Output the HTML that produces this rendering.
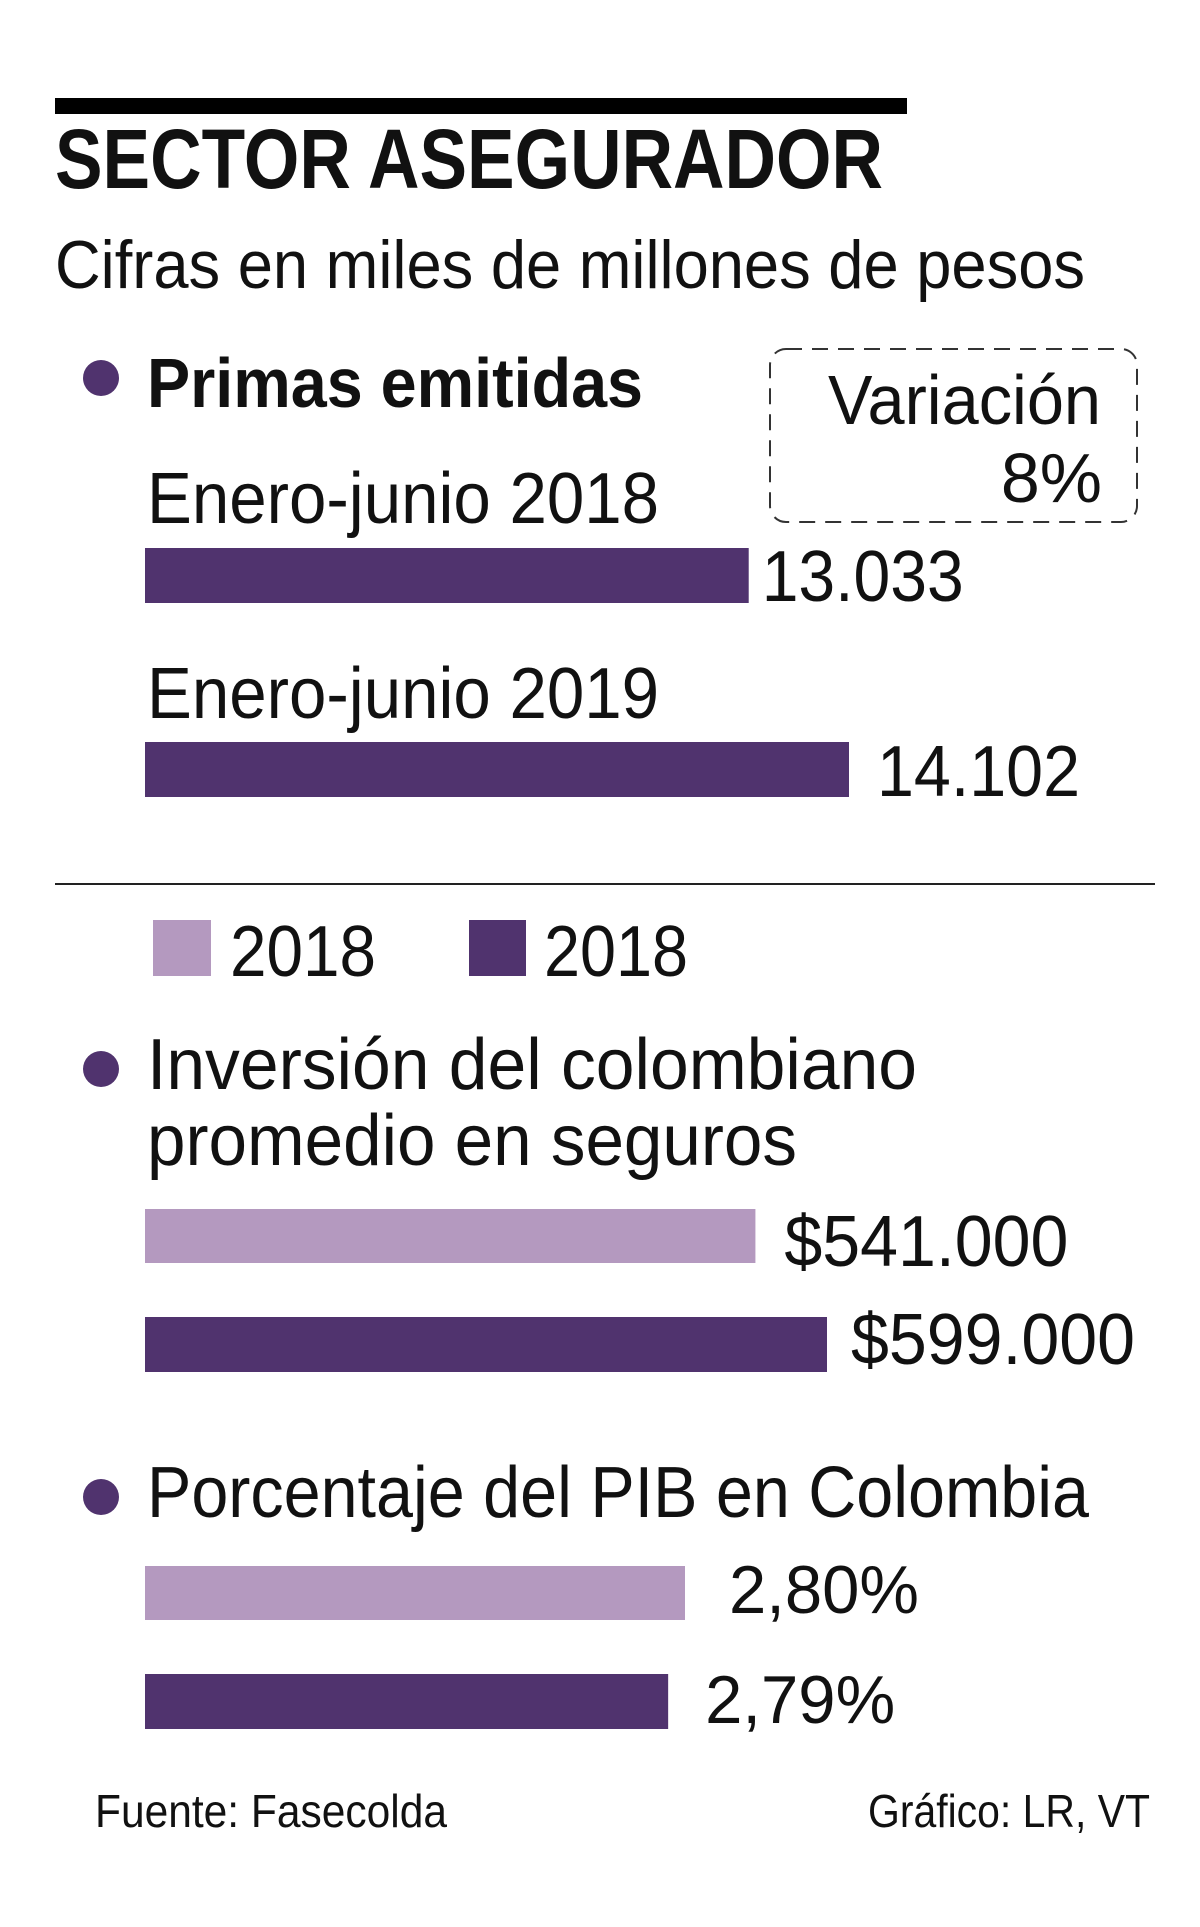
<!DOCTYPE html>
<html><head><meta charset="utf-8"><style>
html,body{margin:0;padding:0;background:#fff}
svg{display:block}
text{font-family:"Liberation Sans",sans-serif;fill:#111}
</style></head><body>
<svg id="chart" width="1200" height="1927" viewBox="0 0 1200 1927" xmlns="http://www.w3.org/2000/svg">
<rect x="55" y="98" width="852" height="16" fill="#000"/>
<text x="55" y="188" font-size="84" font-weight="bold" textLength="828" lengthAdjust="spacingAndGlyphs">SECTOR ASEGURADOR</text>
<text x="55" y="288" font-size="68" textLength="1030" lengthAdjust="spacingAndGlyphs">Cifras en miles de millones de pesos</text>

<circle cx="101" cy="378" r="18" fill="#50336e"/>
<text x="147" y="407" font-size="70" font-weight="bold" textLength="496" lengthAdjust="spacingAndGlyphs">Primas emitidas</text>
<rect x="770" y="349" width="367" height="173" rx="16" fill="none" stroke="#333" stroke-width="2" stroke-dasharray="16 10"/>
<text x="828" y="424" font-size="70" textLength="273" lengthAdjust="spacingAndGlyphs">Variación</text>
<text x="1102" y="502" font-size="70" text-anchor="end">8%</text>
<text x="147" y="523" font-size="72" textLength="512" lengthAdjust="spacingAndGlyphs">Enero-junio 2018</text>
<text x="147" y="718" font-size="72" textLength="512" lengthAdjust="spacingAndGlyphs">Enero-junio 2019</text>
<g id="g-primas"></g>

<rect x="55" y="883" width="1100" height="2" fill="#222"/>

<rect x="153" y="920" width="58" height="56" fill="#b499bf"/>
<text x="230" y="976" font-size="72" textLength="146" lengthAdjust="spacingAndGlyphs">2018</text>
<rect x="469" y="920" width="57" height="56" fill="#50336e"/>
<text x="544" y="976" font-size="72" textLength="144" lengthAdjust="spacingAndGlyphs">2018</text>

<circle cx="101" cy="1069" r="18" fill="#50336e"/>
<text x="147" y="1089" font-size="72" textLength="770" lengthAdjust="spacingAndGlyphs">Inversión del colombiano</text>
<text x="147" y="1165" font-size="72" textLength="650" lengthAdjust="spacingAndGlyphs">promedio en seguros</text>
<g id="g-inv"></g>

<circle cx="101" cy="1497" r="18" fill="#50336e"/>
<text x="147" y="1517" font-size="72" textLength="942" lengthAdjust="spacingAndGlyphs">Porcentaje del PIB en Colombia</text>
<g id="g-pib"></g>

<text x="95" y="1827" font-size="46" fill="#222" textLength="352" lengthAdjust="spacingAndGlyphs">Fuente: Fasecolda</text>
<text x="868" y="1827" font-size="46" fill="#222" textLength="282" lengthAdjust="spacingAndGlyphs">Gráfico: LR, VT</text>
</svg>
<script>
const primasValues = [13033, 14102];
const primasLabels = ["13.033", "14.102"];
const inversionValues = [541000, 599000];
const inversionLabels = ["$541.000", "$599.000"];
const pibValues = [2.80, 2.79];
const pibLabels = ["2,80%", "2,79%"];

const NS = "http://www.w3.org/2000/svg";
const X0 = 145;
function scale(d0, d1, w) { return v => (v - d0) / (d1 - d0) * w; }
function drawGroup(gid, values, labels, sc, rows, colors, gaps, name) {
  const g = document.getElementById(gid);
  values.forEach((v, i) => {
    const w = Math.max(0, sc(v));
    const r = document.createElementNS(NS, "rect");
    r.setAttribute("x", X0); r.setAttribute("y", rows[i][0]);
    r.setAttribute("width", w); r.setAttribute("height", rows[i][1]);
    r.setAttribute("fill", colors[i]);
    
    
    g.appendChild(r);
    const t = document.createElementNS(NS, "text");
    t.setAttribute("x", X0 + w + gaps[i]); t.setAttribute("y", rows[i][2]);
    t.setAttribute("font-size", rows[i][3]);
    t.setAttribute("textLength", rows[i][4]);
    t.setAttribute("lengthAdjust", "spacingAndGlyphs");
    t.textContent = labels[i];
    
    
    g.appendChild(t);
  });
}
drawGroup("g-primas", primasValues, primasLabels, scale(6598, 14102, 704),
  [[548, 55, 601, 72, 202], [742, 55, 796, 72, 203]], ["#50336e", "#50336e"], [13, 28], "primas");
drawGroup("g-inv", inversionValues, inversionLabels, scale(46400, 599000, 682),
  [[1209, 54, 1266, 72, 284], [1317, 55, 1364, 72, 284]], ["#b499bf", "#50336e"], [29, 24], "inversion");
drawGroup("g-pib", pibValues, pibLabels, scale(2.4794, 2.80, 540),
  [[1566, 54, 1613, 68, 190], [1674, 55, 1723, 68, 190]], ["#b499bf", "#50336e"], [44, 37], "pib");
</script>
</body></html>
